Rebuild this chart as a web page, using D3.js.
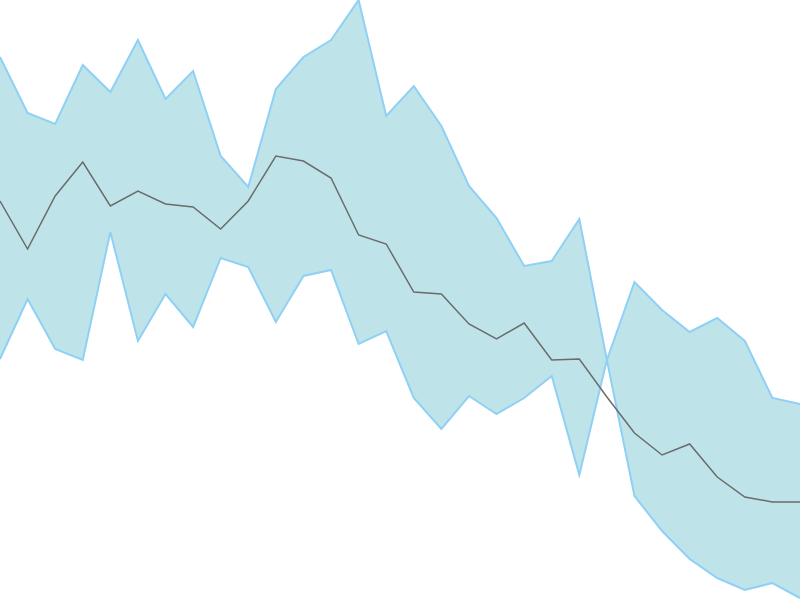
<!DOCTYPE html>
<html>
<head>
<meta charset="utf-8">
<script src="https://cdn.jsdelivr.net/npm/d3@7"></script>
<style>
  html, body { margin: 0; padding: 0; background: #fff; }
  svg { display: block; }
</style>
</head>
<body>
<div id="chart"></div>
<script>
// Band and centre line, one value per step
const steps = d3.range(30);
const upper = [543, 487, 476, 535, 508, 560, 501, 529, 444, 413,
               511, 543, 560, 600, 484, 514, 474, 414, 382, 334,
               339, 381, 240, 104, 69, 41, 22, 10, 17, 2];
const lower = [241, 301, 251, 240, 368, 259, 306, 273, 342, 333,
               278, 324, 330, 256, 269, 202, 171, 204, 186, 202,
               224, 125, 240, 318, 290, 268, 282, 259, 202, 196];
const middle = [399, 351, 404, 438, 394, 409, 396, 393, 371, 399,
                444, 439, 422, 365, 356, 308, 306, 276, 261, 277,
                240, 241, 203, 167, 145, 156, 123, 103, 98, 98];

const width = 800, height = 600;

const svg = d3.select("#chart")
    .append("svg")
    .attr("width", width)
    .attr("height", height);

// Scales fill the whole frame, no axes
const x = d3.scaleLinear()
    .domain(d3.extent(steps))
    .range([0, width]);

const y = d3.scaleLinear()
    .domain([0, 600])
    .range([height, 0]);

// Shaded band
const area = d3.area()
    .x(d => x(d))
    .y0(d => y(lower[d]))
    .y1(d => y(upper[d]));

svg.append("path")
    .datum(steps)
    .attr("fill", "#bee4e9")
    .attr("stroke", "none")
    .attr("d", area);

// Band edges
const upperLine = d3.line().x(d => x(d)).y(d => y(upper[d]));
const lowerLine = d3.line().x(d => x(d)).y(d => y(lower[d]));

[upperLine, lowerLine].forEach(gen => {
    svg.append("path")
        .datum(steps)
        .attr("fill", "none")
        .attr("stroke", "#8fd0f5")
        .attr("stroke-width", 2)
        .attr("d", gen);
});

// Centre line
const midLine = d3.line().x(d => x(d)).y(d => y(middle[d]));

svg.append("path")
    .datum(steps)
    .attr("fill", "none")
    .attr("stroke", "#6b6b6b")
    .attr("stroke-width", 1.5)
    .attr("d", midLine);
</script>
</body>
</html>
